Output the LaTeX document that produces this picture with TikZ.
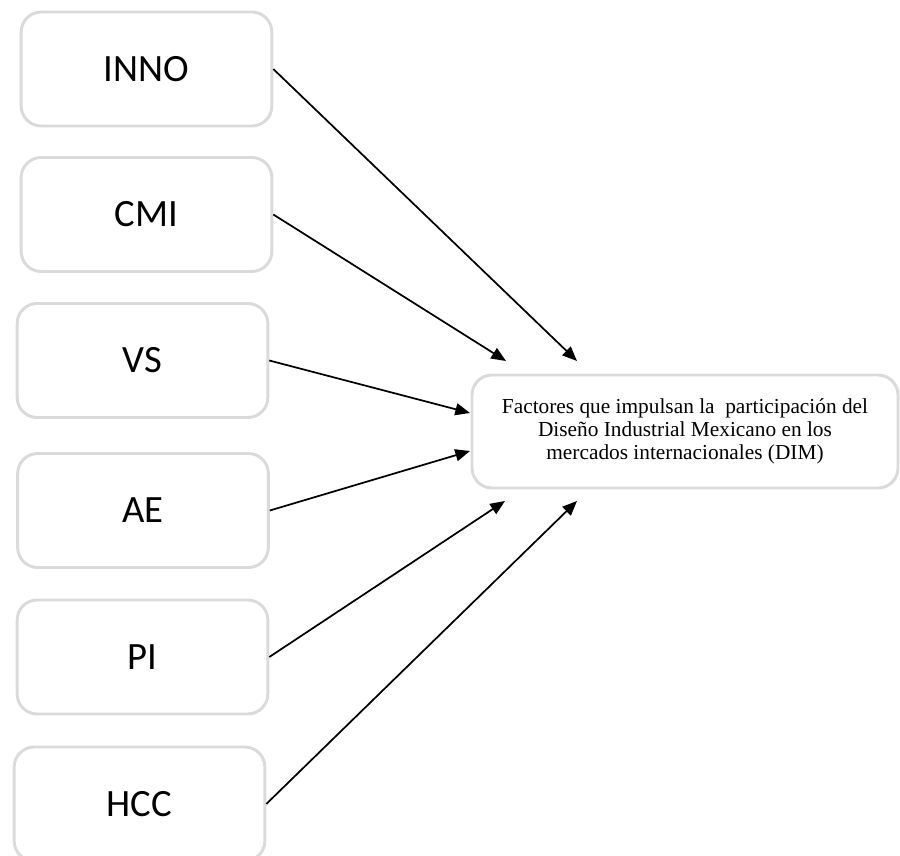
\documentclass[tikz,border=0pt]{standalone}
\usepackage{fontspec}
\setmainfont{Liberation Serif}
\newfontfamily\labelfont{Carlito}
\usetikzlibrary{arrows.meta}
\definecolor{boxgray}{HTML}{DADADA}

\begin{document}
\begin{tikzpicture}[x=0.75pt,y=-0.75pt]
\tikzstyle{factor}=[draw=boxgray, line width=2.2pt, rounded corners=15pt, minimum width=188pt, minimum height=85.5pt, inner sep=0pt, font=\labelfont\fontsize{29}{34}\selectfont]
\tikzstyle{result}=[draw=boxgray, line width=2.2pt, rounded corners=15pt, minimum width=319.5pt, minimum height=84.75pt, inner sep=0pt, align=center, font=\fontsize{16}{17.4}\selectfont]
\tikzstyle{arr}=[black, line width=1.3pt, -{Triangle[length=11pt,width=9pt]}]
\clip (0,0) rectangle (900,856);
% left boxes
\node [factor] (inno) at (146.5,69) {INNO};
\node [factor] (cmi) at (146.5,214.5) {CMI};
\node [factor] (vs) at (142.5,360.5) {VS};
\node [factor] (ae) at (143,510.5) {AE};
\node [factor] (pi) at (142.5,657) {PI};
\node [factor] (hcc) at (139.5,804) {HCC};
% right box
\node [result] (dim) at (685,431.5) {Factores que impulsan la \ participación del\\Diseño Industrial Mexicano en los\\mercados internacionales (DIM)};
% arrow ends
\coordinate (t1) at (577,361);
\coordinate (t2) at (506,361);
\coordinate (t3) at (470,413);
\coordinate (t4) at (470,451);
\coordinate (t5) at (505,501);
\coordinate (t6) at (577,501);
\draw [arr] (inno.east) -- (t1);
\draw [arr] (cmi.east) -- (t2);
\draw [arr] (vs.east) -- (t3);
\draw [arr] (ae.east) -- (t4);
\draw [arr] (pi.east) -- (t5);
\draw [arr] (hcc.east) -- (t6);
\end{tikzpicture}
\end{document}
